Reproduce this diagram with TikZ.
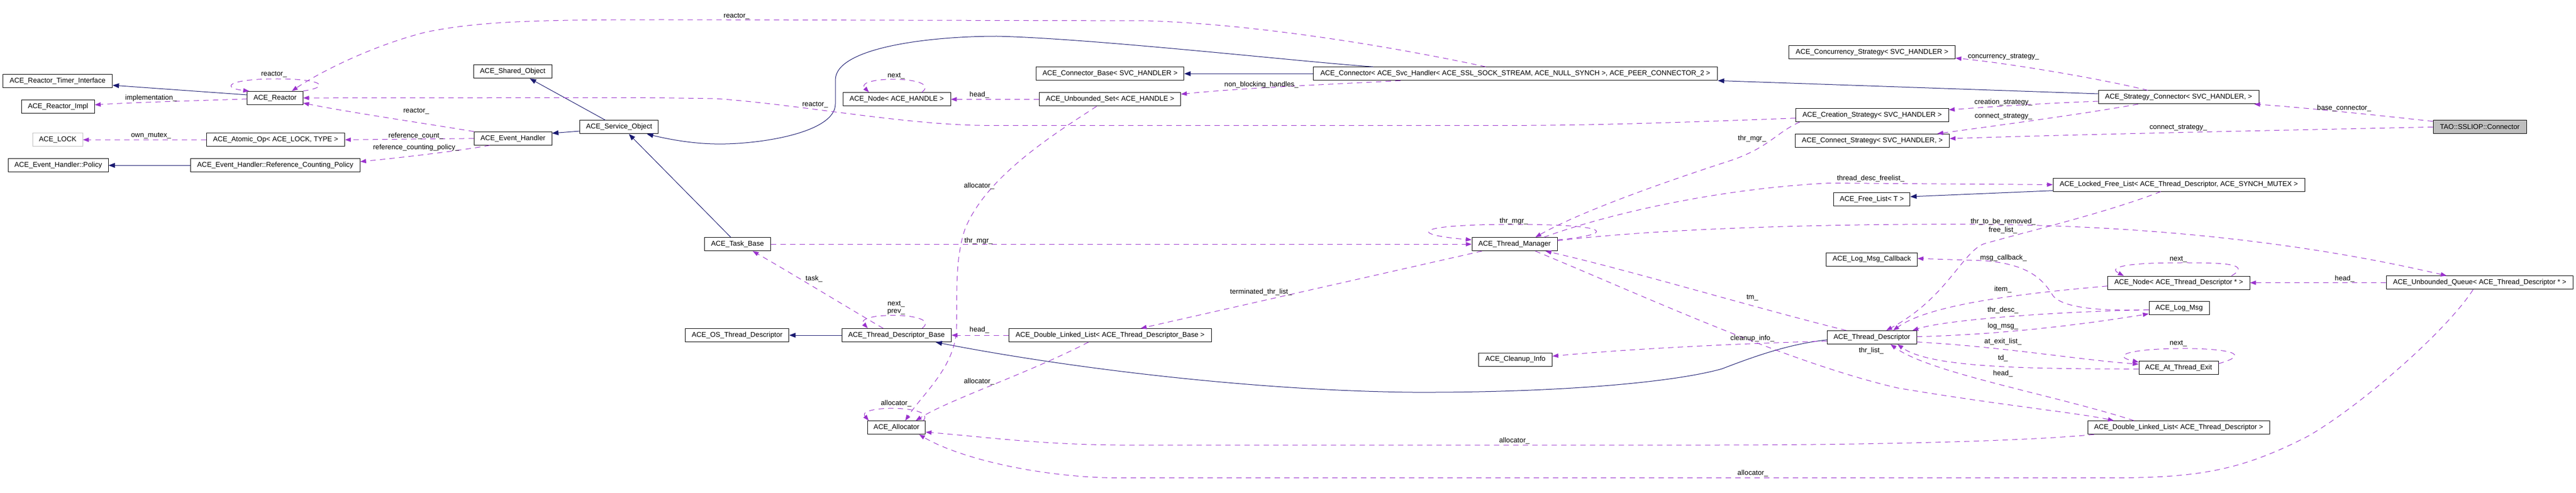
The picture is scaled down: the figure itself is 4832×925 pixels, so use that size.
\documentclass[tikz,border=0pt]{standalone}
\usepackage{fontspec}
\setmainfont{Liberation Sans}
\usetikzlibrary{arrows.meta}
\definecolor{navy}{HTML}{191970}
\definecolor{orch}{HTML}{9A32CD}
\definecolor{greyb}{HTML}{BFBFBF}
\begin{document}
\begin{tikzpicture}[x=1pt,y=-1pt,
 cls/.style={draw=black, line width=1pt, fill=white, minimum height=25pt, inner sep=0pt, font=\fontsize{13.2}{14}\selectfont, text=black},
 lbl/.style={inner sep=0pt, font=\fontsize{13.2}{14}\selectfont, text=black, align=center},
 inh/.style={draw=navy, line width=1pt, -{Triangle[length=12pt,width=9pt]}},
 use/.style={draw=orch, line width=1pt, dash pattern=on 10pt off 8pt, -{Triangle[length=11pt,width=8pt]}},
]
\fill[white] (0,0) rectangle (4832,925);
\useasboundingbox (0,0) rectangle (4832,925);

% ---------- nodes ----------
\node[cls,minimum width=205.5pt] (timer) at (108,151.8) {ACE\_Reactor\_Timer\_Interface};
\node[cls,minimum width=137pt] (impl) at (108.8,199.8) {ACE\_Reactor\_Impl};
\node[cls,draw=greyb,minimum width=93.5pt] (lock) at (108.3,262.3) {ACE\_LOCK};
\node[cls,minimum width=187.5pt] (policy) at (109.3,310.3) {ACE\_Event\_Handler::Policy};
\node[cls,minimum width=104.4pt] (reactor) at (516,183.8) {ACE\_Reactor};
\node[cls,minimum width=259.3pt] (atomic) at (517,262.3) {ACE\_Atomic\_Op< ACE\_LOCK, TYPE >};
\node[cls,minimum width=317.7pt] (rcpolicy) at (516.3,310.3) {ACE\_Event\_Handler::Reference\_Counting\_Policy};
\node[cls,minimum width=146.7pt] (shared) at (961.7,134.3) {ACE\_Shared\_Object};
\node[cls,minimum width=147.2pt] (service) at (1161.3,238.5) {ACE\_Service\_Object};
\node[cls,minimum width=145.6pt] (evh) at (962.2,259.8) {ACE\_Event\_Handler};
\node[cls,minimum width=123.3pt] (task) at (1383.4,458.2) {ACE\_Task\_Base};
\node[cls,minimum width=202pt] (nodeh) at (1682,186.3) {ACE\_Node< ACE\_HANDLE >};
\node[cls,minimum width=194.3pt] (osthr) at (1382.7,629) {ACE\_OS\_Thread\_Descriptor};
\node[cls,minimum width=205.4pt] (tdb) at (1681.7,629) {ACE\_Thread\_Descriptor\_Base};
\node[cls,minimum width=277.4pt] (connbase) at (2082.2,138.3) {ACE\_Connector\_Base< SVC\_HANDLER >};
\node[cls,minimum width=265pt] (uset) at (2082.2,186.5) {ACE\_Unbounded\_Set< ACE\_HANDLE >};
\node[cls,minimum width=379.6pt] (dlltdb) at (2082.2,629) {ACE\_Double\_Linked\_List< ACE\_Thread\_Descriptor\_Base >};
\node[cls,minimum width=108.4pt] (alloc) at (1681.6,802.3) {ACE\_Allocator};
\node[cls,minimum width=758.7pt] (connector) at (2842.4,138.3) {ACE\_Connector< ACE\_Svc\_Handler< ACE\_SSL\_SOCK\_STREAM, ACE\_NULL\_SYNCH >, ACE\_PEER\_CONNECTOR\_2 >};
\node[cls,minimum width=160pt] (tm) at (2841,458.2) {ACE\_Thread\_Manager};
\node[cls,minimum width=138pt] (cleanup) at (2842.5,674.5) {ACE\_Cleanup\_Info};
\node[cls,minimum width=312pt] (concur) at (3511.5,98.5) {ACE\_Concurrency\_Strategy< SVC\_HANDLER >};
\node[cls,minimum width=301pt] (strcon) at (4086.5,182.5) {ACE\_Strategy\_Connector< SVC\_HANDLER, >};
\node[cls,minimum width=286.6pt] (creation) at (3511.7,216) {ACE\_Creation\_Strategy< SVC\_HANDLER >};
\node[cls,minimum width=289.2pt] (connect) at (3512,263.8) {ACE\_Connect\_Strategy< SVC\_HANDLER, >};
\node[cls,minimum width=472pt] (lfl) at (4087,346.5) {ACE\_Locked\_Free\_List< ACE\_Thread\_Descriptor, ACE\_SYNCH\_MUTEX >};
\node[cls,minimum width=143pt] (freelist) at (3511.2,374.3) {ACE\_Free\_List< T >};
\node[cls,minimum width=170.5pt] (logcb) at (3511,486.5) {ACE\_Log\_Msg\_Callback};
\node[cls,minimum width=167.8pt] (td) at (3511.2,633) {ACE\_Thread\_Descriptor};
\node[cls,minimum width=266.4pt] (nodetd) at (4086.8,530.5) {ACE\_Node< ACE\_Thread\_Descriptor * >};
\node[cls,minimum width=341pt] (dlltd) at (4086.5,802.2) {ACE\_Double\_Linked\_List< ACE\_Thread\_Descriptor >};
\node[cls,fill=greyb,minimum width=175pt] (tao) at (4651.5,238.3) {TAO::SSLIOP::Connector};
\node[cls,minimum width=350.5pt] (uq) at (4651.3,530.3) {ACE\_Unbounded\_Queue< ACE\_Thread\_Descriptor * >};
\node[cls,minimum width=113pt] (logmsg) at (4087.5,578.3) {ACE\_Log\_Msg};
\node[cls,minimum width=149pt] (ate) at (4086.5,690.3) {ACE\_At\_Thread\_Exit};

% ---------- inheritance ----------
\draw[inh] ([yshift=5.8pt]reactor.west) -- ([yshift=-8.2pt]timer.east);
\draw[inh] (rcpolicy.west) -- (policy.east);
\draw[inh] ([xshift=-25.6pt]service.north) -- ([xshift=32pt]shared.south);
\draw[inh] ([yshift=-7.5pt]service.west) -- ([yshift=9.8pt]evh.east);
\draw[inh] ([xshift=-12.6pt]task.north) -- ([xshift=18.3pt]service.south);
\draw[inh] ([xshift=-266.8pt]connector.north) .. controls (2450,117) and (2050,72) .. (1870,68) .. controls (1740,68) and (1567,90) .. (1567,150) -- (1567,195) .. controls (1567,250) and (1420,272) .. (1340,270) .. controls (1290,269) and (1245,259) .. ([xshift=52pt]service.south);
\draw[inh] (connector.west) -- (connbase.east);
\draw[inh] ([yshift=6.5pt]strcon.west) -- (connector.south east);
\draw[inh] ([yshift=-11.2pt]lfl.west) -- ([yshift=5.3pt]freelist.east);
\draw[inh] (tdb.west) -- (osthr.east);
\draw[inh] ([yshift=-4.7pt]td.west) .. controls (3360,645) and (3300,665) .. (3230,692) .. controls (3130,720) and (2900,737) .. (2650,736) .. controls (2350,733) and (2000,690) .. ([xshift=73.3pt]tdb.south);

% ---------- usage ----------
\draw[use] (reactor.north east) .. controls (625,162) and (600,148) .. (520,148) .. controls (425,148) and (415,165) .. ([xshift=4pt]reactor.north west);
\draw[use] ([xshift=-55.4pt]connector.north) .. controls (2600,85) and (2350,45) .. (2150,39) -- (1250,37) .. controls (1000,37) and (900,40) .. (800,60) .. controls (700,85) and (600,135) .. ([xshift=31.5pt]reactor.north);
\draw[use] ([yshift=-5.7pt]creation.west) .. controls (3200,228) and (3000,235.3) .. (2850,235.3) -- (1850,235.3) .. controls (1700,235) and (1500,196) .. (1342,185) .. controls (1250,183.5) and (1200,183.3) .. (1150,183.3) -- (reactor.east);
\draw[use] (evh.north west) .. controls (800,232) and (650,210) .. ([yshift=-9.5pt]reactor.east);
\draw[use] ([yshift=-1.9pt]reactor.west) .. controls (400,188) and (250,192) .. ([yshift=3.1pt]impl.east);
\draw[use] (atomic.west) -- (lock.east);
\draw[use] (evh.west) -- (atomic.east);
\draw[use] ([xshift=-43.4pt]evh.south) .. controls (860,283) and (760,295) .. ([yshift=7pt]rcpolicy.east);
\draw[use] ([xshift=47pt]nodeh.north) .. controls (1770,142) and (1600,142) .. ([xshift=-52pt]nodeh.north);
\draw[use] (uset.west) -- (nodeh.east);
\draw[use] ([xshift=-215.4pt]connector.south) .. controls (2500,158) and (2330,165) .. ([yshift=9.8pt]uset.east);
\draw[use] ([xshift=-25.2pt]uset.south) .. controls (1980,250) and (1850,330) .. (1810,430) .. controls (1790,490) and (1796,560) .. (1794,620) .. controls (1790,690) and (1730,740) .. ([xshift=16.4pt]alloc.north);
\draw[use] ([xshift=48pt]tdb.north) .. controls (1770,585) and (1600,585) .. ([xshift=-54pt]tdb.north);
\draw[use] ([xshift=-25pt]tdb.north) .. controls (1620,595) and (1480,510) .. ([xshift=28.6pt]task.south);
\draw[use] (dlltdb.west) -- (tdb.east);
\draw[use] ([xshift=-40.6pt]dlltdb.south) .. controls (1930,700) and (1780,750) .. ([xshift=36pt]alloc.north);
\draw[use] ([xshift=50pt]alloc.north) .. controls (1760,760) and (1605,760) .. ([xshift=-52pt]alloc.north);
\draw[use] ([xshift=-61.4pt]tm.south) -- ([xshift=57.6pt]dlltdb.north);
\draw[use] (task.east) -- (tm.west);
\draw[use] ([yshift=8.2pt]tm.east) .. controls (3030,440) and (3030,421) .. (2840,421) .. controls (2650,421) and (2640,440) .. ([yshift=8.2pt]tm.west);
\draw[use] ([xshift=-136pt]creation.south) .. controls (3330,250) and (3320,275) .. (3250,300) .. controls (3080,355) and (2950,405) .. ([xshift=39pt]tm.north);
\draw[use] ([xshift=55pt]tm.north) .. controls (2990,410) and (3200,355) .. (3432,343.5) -- (lfl.west);
\draw[use] ([yshift=6.5pt]tm.east) .. controls (3100,430) and (3400,420) .. (3690,420.7) .. controls (4000,422) and (4300,450) .. ([xshift=-62pt]uq.north);
\draw[use] ([xshift=-34pt]lfl.south) .. controls (3950,400) and (3780,440) .. (3720,458) .. controls (3680,475) and (3650,560) .. ([xshift=27pt]td.north);
\draw[use] ([xshift=-47.8pt]td.north) .. controls (3300,580) and (3050,505) .. ([xshift=58pt]tm.south);
\draw[use] ([xshift=39pt]tm.south) .. controls (3060,545) and (3350,680) .. (3560,728) .. controls (3750,760) and (3900,775) .. ([xshift=-121.5pt]dlltd.north);
\draw[use] ([yshift=-7pt]td.west) .. controls (3250,645) and (3050,655) .. ([yshift=6.2pt]cleanup.east);
\draw[use] ([yshift=-3pt]logmsg.west) .. controls (3940,584) and (3870,578) .. (3851,555) .. controls (3830,520) and (3800,495) .. (3720,489) -- ([yshift=1.5pt]logcb.east);
\draw[use] ([yshift=-3pt]logmsg.west) .. controls (3850,585) and (3650,600) .. ([xshift=76pt]td.north);
\draw[use] ([yshift=1.3pt]td.east) .. controls (3750,628) and (3900,610) .. ([yshift=-10.5pt]logmsg.west);
\draw[use] ([yshift=-8.7pt]td.east) .. controls (3750,650) and (3900,675) .. ([yshift=7pt]ate.west);
\draw[use] ([yshift=8pt]ate.east) .. controls (4240,660) and (4150,653) .. (4085,654) .. controls (3990,655) and (3960,668) .. ([yshift=11pt]ate.west);
\draw[use] ([yshift=-2pt]ate.west) .. controls (3800,692) and (3620,690) .. ([xshift=48pt]td.south);
\draw[use] ([xshift=-83.5pt]dlltd.north) .. controls (3850,740) and (3620,700) .. ([xshift=35pt]td.south);
\draw[use] ([yshift=-6.2pt]nodetd.west) .. controls (3800,550) and (3620,570) .. ([xshift=40pt]td.north);
\draw[use] ([xshift=99pt]nodetd.north) .. controls (4230,492) and (4150,493) .. (4085,493) .. controls (4000,493) and (3950,500) .. ([xshift=-103pt]nodetd.north);
\draw[use] (uq.west) -- (nodetd.east);
\draw[use] ([xshift=-158.5pt]dlltd.south) .. controls (3800,828) and (3500,835) .. (3210,835) -- (2100,835) .. controls (1950,834) and (1850,820) .. ([yshift=-8.5pt]alloc.east);
\draw[use] ([xshift=-12.3pt]uq.south) .. controls (4590,620) and (4430,760) .. (4330,818) .. controls (4200,885) and (4120,896.7) .. (3950,896.7) -- (2100,896.7) .. controls (1950,896) and (1800,860) .. ([xshift=42.4pt]alloc.south);
\draw[use] ([xshift=-57.5pt]strcon.north) .. controls (3950,150) and (3780,120) .. ([yshift=-10.5pt]concur.east);
\draw[use] ([yshift=-7.5pt]strcon.west) .. controls (3800,195) and (3700,203) .. ([yshift=10pt]creation.east);
\draw[use] ([xshift=-76pt]strcon.south) .. controls (3900,215) and (3750,235) .. ([xshift=122pt]connect.north);
\draw[use] ([yshift=10.6pt]tao.west) .. controls (4450,215) and (4300,200) .. ([xshift=-9pt]strcon.south east);
\draw[use] (tao.west) .. controls (4300,244) and (3900,252) .. ([yshift=3.8pt]connect.east);

% ---------- labels ----------
\node[lbl] (l01) at (1381.6,30.7) {reactor\_};
\node[lbl] (l02) at (1529,196.7) {reactor\_};
\node[lbl] (l03) at (780.8,209) {reactor\_};
\node[lbl] (l04) at (514,140) {reactor\_};
\node[lbl] (l05) at (283.3,184) {implementation\_};
\node[lbl] (l06) at (283.3,255) {own\_mutex\_};
\node[lbl] (l07) at (780,255) {reference\_count\_};
\node[lbl] (l08) at (780.5,276.7) {reference\_counting\_policy\_};
\node[lbl] (l09) at (1681,142.7) {next\_};
\node[lbl] (l10) at (1837,178.3) {head\_};
\node[lbl] (l11) at (2366,159) {non\_blocking\_handles\_};
\node[lbl] (l12) at (1836.6,349) {allocator\_};
\node[lbl] (l13) at (1835.6,451.7) {thr\_mgr\_};
\node[lbl] (l14) at (1681,578) {next\_\\prev\_};
\node[lbl] (l16) at (1527,522.7) {task\_};
\node[lbl] (l17) at (1837,619.3) {head\_};
\node[lbl] (l18) at (1836.6,715.7) {allocator\_};
\node[lbl] (l19) at (1681,756.7) {allocator\_};
\node[lbl] (l20) at (2365.4,547.7) {terminated\_thr\_list\_};
\node[lbl] (l21) at (2839.6,415) {thr\_mgr\_};
\node[lbl] (l22) at (3286.5,260) {thr\_mgr\_};
\node[lbl] (l23) at (3509,335) {thread\_desc\_freelist\_};
\node[lbl] (l24) at (3757.4,415.7) {thr\_to\_be\_removed\_};
\node[lbl] (l25) at (3757,431.7) {free\_list\_};
\node[lbl] (l26) at (3287,559) {tm\_};
\node[lbl] (l27) at (3287,635) {cleanup\_info\_};
\node[lbl] (l28) at (3510,658.3) {thr\_list\_};
\node[lbl] (l29) at (3758,484.3) {msg\_callback\_};
\node[lbl] (l30) at (3757,543.3) {item\_};
\node[lbl] (l31) at (3757,582.3) {thr\_desc\_};
\node[lbl] (l32) at (3757,611.7) {log\_msg\_};
\node[lbl] (l33) at (3757,640.7) {at\_exit\_list\_};
\node[lbl] (l34) at (3757,671.7) {td\_};
\node[lbl] (l35) at (3757,700.7) {head\_};
\node[lbl] (l36) at (4086,645) {next\_};
\node[lbl] (l37) at (4086,486.7) {next\_};
\node[lbl] (l38) at (4398,522.7) {head\_};
\node[lbl] (l39) at (2840.6,826.7) {allocator\_};
\node[lbl] (l40) at (3287.8,887.7) {allocator\_};
\node[lbl] (l41) at (3758,106.7) {concurrency\_strategy\_};
\node[lbl] (l42) at (3758,191.7) {creation\_strategy\_};
\node[lbl] (l43) at (3758,219) {connect\_strategy\_};
\node[lbl] (l44) at (4397,203.3) {base\_connector\_};
\node[lbl] (l45) at (4086,240) {connect\_strategy\_};
\end{tikzpicture}
\end{document}
